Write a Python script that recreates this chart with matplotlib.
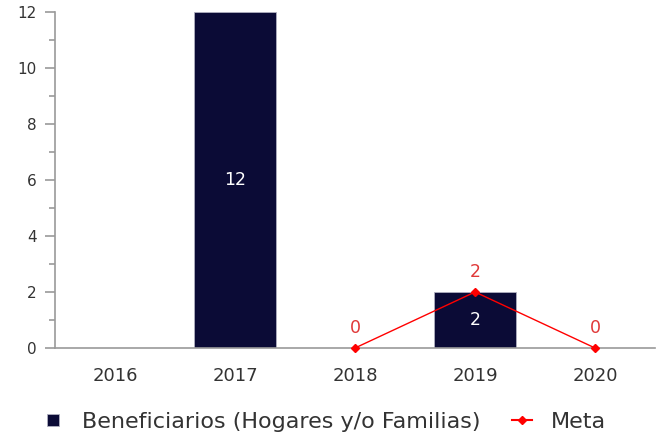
import numpy as np
import matplotlib.pyplot as plt
from matplotlib.lines import Line2D

years = ['2016', '2017', '2018', '2019', '2020']
beneficiarios = [np.nan, 12, np.nan, 2, np.nan]
meta = [np.nan, np.nan, 0, 2, 0]

fig = plt.figure(figsize=(6.59, 4.38), dpi=100)
ax = fig.add_axes([0.0835, 0.2055, 0.9105, 0.767])

x = np.arange(len(years))
ax.bar(x, beneficiarios, width=0.68, color='#0b0b36', edgecolor='#b0b0c0',
       linewidth=0.6, zorder=2)
for xi, v in zip(x, beneficiarios):
    if not np.isnan(v):
        ax.text(xi, v / 2, f'{v:g}', color='white', ha='center', va='center', fontsize=12.5)

ax.plot(x, meta, color='red', lw=1, marker='D', ms=4, zorder=3, clip_on=False)
for xi, v in zip(x, meta):
    if not np.isnan(v):
        ax.annotate(f'{v:g}', (xi, v), xytext=(0, 8), textcoords='offset points',
                    color='#e03838', ha='center', va='bottom', fontsize=12.5)

ax.set_xlim(-0.5, 4.5)
ax.set_ylim(0, 12)
ax.set_xticks(x)
ax.set_xticklabels(years)
ax.set_yticks(range(0, 13, 2))
ax.set_yticks(range(1, 12, 2), minor=True)

for s in ['top', 'right']:
    ax.spines[s].set_visible(False)
for s in ['left', 'bottom']:
    ax.spines[s].set_color('#9a9a9a')
    ax.spines[s].set_linewidth(1.2)
ax.tick_params(axis='y', which='major', colors='#9a9a9a', labelcolor='#333333',
               labelsize=11, length=7, width=1.2, pad=6)
ax.tick_params(axis='y', which='minor', colors='#9a9a9a', length=4.5, width=1.2)
ax.tick_params(axis='x', length=0, labelcolor='#333333', labelsize=13, pad=14)

handles = [
    Line2D([], [], ls='none', marker='s', ms=9, color='#0b0b36', markeredgecolor='#b0b0c0',
           markeredgewidth=0.6),
    Line2D([], [], color='red', lw=1.5, marker='D', ms=4),
]
labels = ['Beneficiarios (Hogares y/o Familias)', 'Meta']
fig.legend(handles, labels, loc='center', bbox_to_anchor=(0.4925, 0.037), ncol=2,
           frameon=False, fontsize=16, handlelength=0.9, handletextpad=0.86,
           columnspacing=1.4, labelcolor='#333333', borderpad=0)

fig.savefig('out.png', dpi=100)
